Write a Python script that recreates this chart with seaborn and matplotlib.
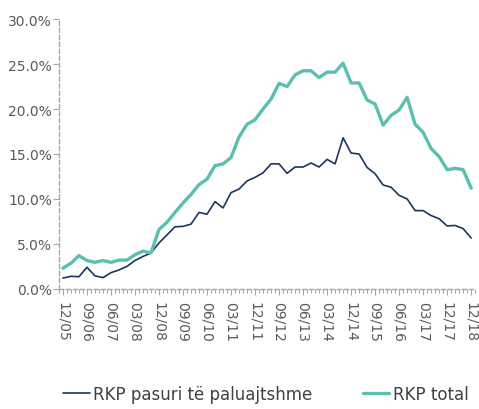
import matplotlib
matplotlib.use("Agg")
import matplotlib.pyplot as plt
import matplotlib.ticker as mtick
import numpy as np
import pandas as pd
import seaborn as sns

# quarter labels (52 points, last one labelled 12/18)
quarters = ["12/05",
            "03/06", "06/06", "09/06", "12/06",
            "03/07", "06/07", "09/07", "12/07",
            "03/08", "06/08", "09/08", "12/08",
            "03/09", "06/09", "09/09", "12/09",
            "03/10", "06/10", "09/10", "12/10",
            "03/11", "06/11", "09/11", "12/11",
            "03/12", "06/12", "09/12", "12/12",
            "03/13", "06/13", "09/13", "12/13",
            "03/14", "06/14", "09/14", "12/14",
            "03/15", "06/15", "09/15", "12/15",
            "03/16", "06/16", "09/16", "12/16",
            "03/17", "06/17", "09/17", "12/17",
            "03/18", "06/18", "12/18"]

rkp_pasuri = [1.2, 1.4, 1.35, 2.4, 1.45, 1.25, 1.8, 2.1, 2.5, 3.15, 3.6, 4.0,
              5.1, 6.0, 6.9, 6.95, 7.2, 8.5, 8.3, 9.7, 9.0, 10.7, 11.1, 12.0,
              12.4, 12.9, 13.9, 13.9, 12.85, 13.55, 13.55, 14.0, 13.55, 14.4,
              13.9, 16.8, 15.1, 15.0, 13.5, 12.8, 11.55, 11.3, 10.4, 10.0,
              8.7, 8.7, 8.15, 7.8, 7.0, 7.05, 6.7, 5.65]

rkp_total = [2.3, 2.85, 3.7, 3.15, 2.95, 3.15, 2.95, 3.2, 3.2, 3.8, 4.2, 4.0,
             6.6, 7.4, 8.5, 9.55, 10.5, 11.6, 12.2, 13.7, 13.9, 14.6, 16.9,
             18.3, 18.8, 20.0, 21.1, 22.85, 22.5, 23.8, 24.25, 24.25, 23.5,
             24.1, 24.1, 25.1, 22.9, 22.9, 21.0, 20.55, 18.2, 19.3, 19.9, 21.3,
             18.3, 17.4, 15.6, 14.7, 13.25, 13.4, 13.25, 11.2]

series_names = ["RKP pasuri të paluajtshme", "RKP total"]

df = pd.DataFrame({
    "idx": list(range(len(quarters))) * 2,
    "value": rkp_pasuri + rkp_total,
    "series": [series_names[0]] * len(quarters) + [series_names[1]] * len(quarters),
})

sns.set_style("white")
plt.rcParams["font.family"] = ["DejaVu Sans"]

navy = "#1b365d"
teal = "#5bbfb0"
grey = "#595959"

fig = plt.figure(figsize=(4.79, 4.10), dpi=100)
ax = fig.add_axes([0.123, 0.293, 0.869, 0.658])

sns.lineplot(data=df[df.series == series_names[0]], x="idx", y="value",
             color=navy, linewidth=1.2, ax=ax, label=series_names[0])
sns.lineplot(data=df[df.series == series_names[1]], x="idx", y="value",
             color=teal, linewidth=2.4, ax=ax, label=series_names[1])

ax.set_xlim(-0.5, len(quarters) - 0.5)
ax.set_ylim(0, 30)
ax.yaxis.set_major_locator(mtick.MultipleLocator(5))
ax.yaxis.set_major_formatter(mtick.FuncFormatter(lambda v, p: f"{v:.1f}%"))

tick_pos = list(range(0, len(quarters), 3))
ax.set_xticks(tick_pos)
ax.set_xticklabels([quarters[i] for i in tick_pos], rotation=270)
ax.set_xticks(np.arange(-0.5, len(quarters), 0.5), minor=True)
ax.set_xlabel("")
ax.set_ylabel("")

for s in ["top", "right"]:
    ax.spines[s].set_visible(False)
for s in ["left", "bottom"]:
    ax.spines[s].set_color("#a6a6a6")
    ax.spines[s].set_linestyle((0, (3, 2)))
    ax.spines[s].set_linewidth(1.0)

ax.tick_params(axis="y", direction="out", length=4, width=0.8, color="#a6a6a6",
               labelsize=10, labelcolor=grey, pad=1, left=True)
ax.tick_params(axis="x", which="major", direction="out", length=4, width=0.8,
               color="#a6a6a6", labelsize=10, labelcolor=grey, pad=5, bottom=True)
ax.tick_params(axis="x", which="minor", direction="out", length=3, width=0.8,
               color="#a6a6a6", bottom=True)

handles, labels = ax.get_legend_handles_labels()
ax.legend(handles, labels, loc="center", bbox_to_anchor=(0.555, 0.036),
          bbox_transform=fig.transFigure, ncol=2, frameon=False,
          fontsize=12, handlelength=1.6, handletextpad=0.2, columnspacing=3.0,
          labelcolor="#404040")

fig.savefig("out.png", dpi=100)
